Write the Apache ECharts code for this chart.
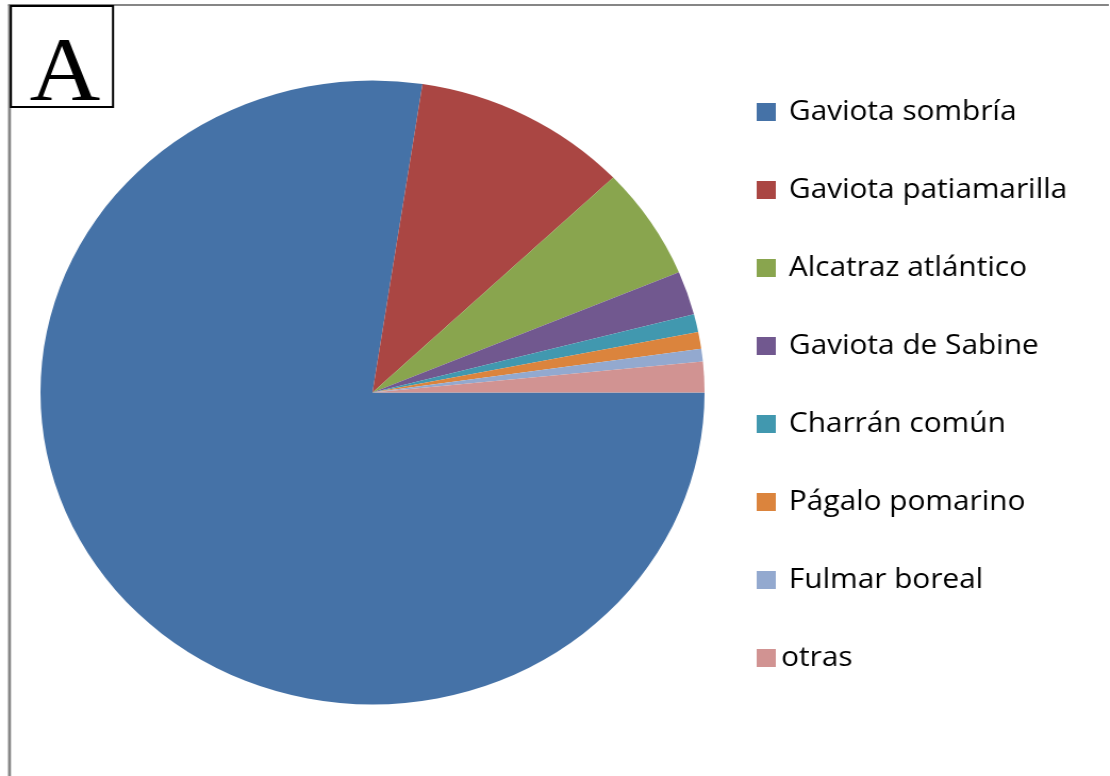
<!DOCTYPE html>
<html>
<head>
<meta charset="utf-8">
<script src="https://cdn.jsdelivr.net/npm/echarts@6/dist/echarts.min.js"></script>
<style>
html,body{margin:0;padding:0;background:#fff;overflow:hidden;}
#wrap{width:1110px;height:776px;overflow:hidden;}
#chart{width:1043px;height:776px;transform:scaleX(1.0642);transform-origin:0 0;}
</style>
</head>
<body>
<div id="wrap"><div id="chart"></div></div>
<script>
const categories = ['Gaviota sombría','Gaviota patiamarilla','Alcatraz atlántico','Gaviota de Sabine','Charrán común','Págalo pomarino','Fulmar boreal','otras'];
const values = [77.4, 10.5, 5.8, 2.26, 0.92, 0.87, 0.66, 1.58];
const colors = ['#4572A7','#AA4643','#89A54E','#71588F','#4198AF','#DB843D','#93A9CF','#D19392'];
const panelLabel = 'A';

const chart = echarts.init(document.getElementById('chart'), null, {renderer:'canvas'});
chart.setOption({
  animation: false,
  backgroundColor: '#ffffff',
  color: colors,
  legend: {
    orient: 'vertical',
    left: 706,
    top: 92,
    itemWidth: 18,
    itemHeight: 18,
    itemGap: 48,
    icon: 'rect',
    selectedMode: false,
    formatter: function (n) { return n === 'otras' ? n : ' ' + n; },
    textStyle: {
      fontFamily: 'Open Sans',
      fontSize: 28,
      lineHeight: 30,
      color: '#000',
      padding: [0,0,0,0]
    },
    data: categories
  },
  graphic: [
    {type:'line', shape:{x1:7.5, y1:5, x2:1042, y2:5}, style:{stroke:'#868686', lineWidth:2}, z:10},
    {type:'line', shape:{x1:8.9, y1:5, x2:8.9, y2:776}, style:{stroke:'#868686', lineWidth:2.8}, z:10},
    {type:'rect', shape:{x:10.2, y:6, width:96, height:101}, style:{fill:'#fff', stroke:'#000', lineWidth:2}, z:11},
    {type:'text', x:61, y:76, style:{text:panelLabel, font:'92px "Liberation Serif"', fill:'#000', align:'center', verticalAlign:'middle'}, z:12}
  ],
  series: [{
    type: 'pie',
    center: [350, 392.5],
    radius: 312,
    startAngle: 0,
    clockwise: true,
    label: {show:false},
    labelLine: {show:false},
    emphasis: {disabled:true},
    itemStyle: {borderWidth:0},
    data: categories.map((c,i)=>({name:c, value:values[i]}))
  }]
});
</script>
</body>
</html>
